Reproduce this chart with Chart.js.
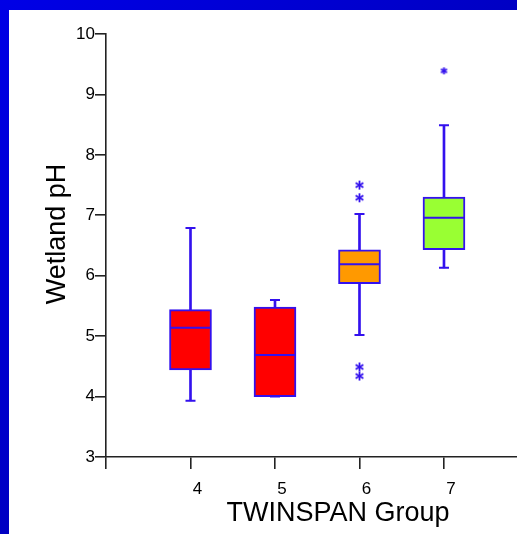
<!DOCTYPE html>
<html>
<head>
<meta charset="utf-8">
<script src="https://cdn.jsdelivr.net/npm/chart.js@4/dist/chart.umd.min.js"></script>
<style>
  html, body { margin: 0; padding: 0; }
  body {
    width: 517px; height: 534px; position: relative; overflow: hidden;
    background: linear-gradient(135deg, #0000e6 0%, #0000c0 55%, #00009a 100%);
  }
  #wrap { position: absolute; left: 9px; top: 10px; width: 508px; height: 524px; background: #fff; overflow: hidden; }
</style>
</head>
<body>
<div id="wrap"><canvas id="c" width="514" height="524"></canvas></div>
<script>
// TWINSPAN groups and the box plot summaries of wetland pH
const groups = [4, 5, 6, 7];
const whiskerLow = [3.93, 4.00, 5.02, 6.13];
const boxLow = [4.44, 4.00, 5.87, 6.43];
const medians = [5.14, 4.69, 6.19, 6.96];
const boxHigh = [5.44, 5.48, 6.43, 7.30];
const whiskerHigh = [6.79, 5.60, 7.02, 8.49];
const outliers = [[], [], [7.50, 7.29, 4.49, 4.34], [9.39]];
const boxColors = ['#ff0000', '#ff0000', '#ff9900', '#99ff33'];
const xTicks = [3, 4, 5, 6, 7];
const yTicks = [3, 4, 5, 6, 7, 8, 9, 10];

const blue = '#3311ee';
const axisColor = '#222';
const font = 'Liberation Sans, Arial, sans-serif';

function asterisk(size) {
  const c = document.createElement('canvas');
  c.width = c.height = size;
  const g = c.getContext('2d');
  g.strokeStyle = blue;
  g.lineWidth = 1.8;
  const m = size / 2, r = size / 2 - 1;
  for (let k = 0; k < 3; k++) {
    const a = Math.PI / 2 + k * Math.PI / 3;
    g.beginPath();
    g.moveTo(m + r * Math.cos(a), m + r * Math.sin(a));
    g.lineTo(m - r * Math.cos(a), m - r * Math.sin(a));
    g.stroke();
  }
  return c;
}
const bigStar = asterisk(11);
const smallStar = asterisk(9);

// medians and whisker caps
const boxExtras = {
  id: 'boxExtras',
  afterDatasetsDraw(chart) {
    const { ctx, scales: { x, y } } = chart;
    ctx.save();
    ctx.strokeStyle = blue;
    ctx.lineWidth = 2;
    groups.forEach((g, i) => {
      const cx = x.getPixelForValue(g);
      const my = y.getPixelForValue(medians[i]);
      ctx.beginPath();
      ctx.moveTo(cx - 20, my); ctx.lineTo(cx + 20, my);
      [whiskerLow[i], whiskerHigh[i]].forEach(v => {
        const py = y.getPixelForValue(v);
        ctx.moveTo(cx - 5, py); ctx.lineTo(cx + 5, py);
      });
      ctx.stroke();
    });
    ctx.restore();
  }
};

const axisTitles = {
  id: 'axisTitles',
  afterDraw(chart) {
    const ctx = chart.ctx;
    ctx.save();
    ctx.fillStyle = '#000';
    ctx.textAlign = 'center';
    ctx.textBaseline = 'alphabetic';
    ctx.font = '27px ' + font;
    ctx.fillText('TWINSPAN Group', 329, 511);
    ctx.translate(56, 224);
    ctx.rotate(-Math.PI / 2);
    ctx.font = '27px ' + font;
    ctx.fillText('Wetland pH', 0, 0);
    ctx.restore();
  }
};

new Chart(document.getElementById('c'), {
  type: 'bar',
  data: {
    datasets: [
      {
        type: 'scatter',
        data: groups.flatMap((g, i) => outliers[i].map(v => ({ x: g, y: v }))),
        pointStyle: c => (c.raw && c.raw.x === 7 ? smallStar : bigStar),
        order: 1
      },
      {
        data: groups.map((g, i) => ({ x: g, y: [boxLow[i], boxHigh[i]] })),
        backgroundColor: boxColors,
        borderColor: blue,
        borderWidth: 2,
        borderSkipped: false,
        barThickness: 42,
        grouped: false,
        order: 2
      },
      {
        data: groups.map((g, i) => ({ x: g, y: [whiskerLow[i], whiskerHigh[i]] })),
        backgroundColor: blue,
        barThickness: 2,
        grouped: false,
        order: 3
      }
    ]
  },
  options: {
    responsive: false,
    animation: false,
    devicePixelRatio: 1,
    layout: { padding: { top: 24, right: 0, left: 0, bottom: 0 } },
    plugins: { legend: { display: false }, tooltip: { enabled: false } },
    scales: {
      x: {
        type: 'linear',
        offset: false,
        min: 3,
        max: 7.876,
        afterBuildTicks: s => { s.ticks = xTicks.map(v => ({ value: v })); },
        afterFit: s => { s.height = 77; },
        ticks: {
          callback: v => (v === 3 ? '' : v),
          labelOffset: 7,
          padding: 10,
          maxRotation: 0,
          autoSkip: false,
          color: '#000',
          font: { family: font, size: 17 }
        },
        grid: { offset: false, drawOnChartArea: false, tickLength: 12, color: axisColor, lineWidth: 1.6 },
        border: { color: axisColor, width: 1.6 }
      },
      y: {
        min: 3,
        max: 10,
        afterBuildTicks: s => { s.ticks = yTicks.map(v => ({ value: v })); },
        afterFit: s => { s.width = 97; },
        ticks: {
          padding: 0,
          color: '#000',
          font: { family: font, size: 17 }
        },
        grid: { drawOnChartArea: false, tickLength: 11, color: axisColor, lineWidth: 1.6 },
        border: { color: axisColor, width: 1.6 }
      }
    }
  },
  plugins: [boxExtras, axisTitles]
});
</script>
</body>
</html>
